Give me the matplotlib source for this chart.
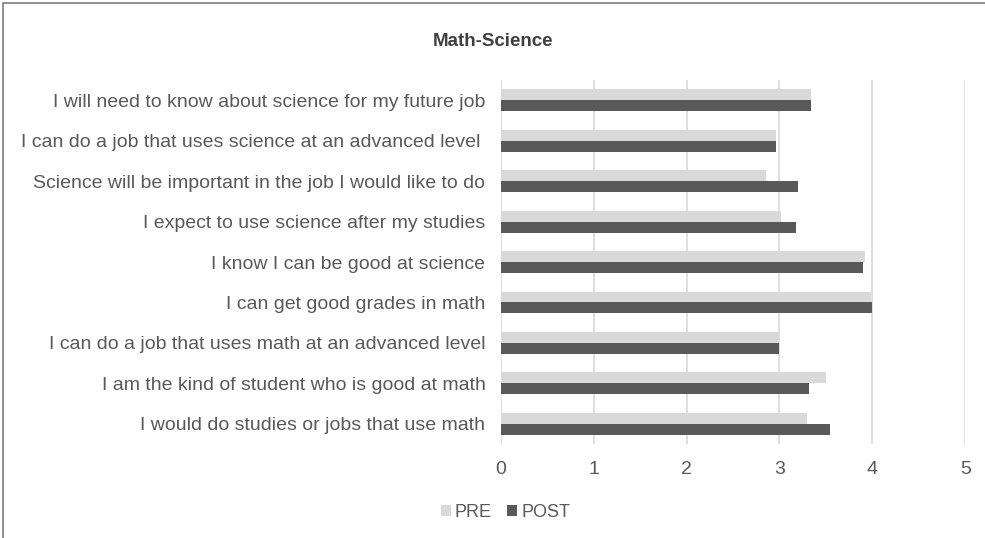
import matplotlib.pyplot as plt
import numpy as np
from matplotlib.patches import Rectangle

plt.rcParams['font.family'] = ['Liberation Sans', 'DejaVu Sans']

# Survey items (top to bottom) and mean scores
items = [
    'I will need to know about science for my future job',
    'I can do a job that uses science at an advanced level ',
    'Science will be important in the job I would like to do',
    'I expect to use science after my studies',
    'I know I can be good at science',
    'I can get good grades in math',
    'I can do a job that uses math at an advanced level',
    'I am the kind of student who is good at math',
    'I would do studies or jobs that use math',
]
pre = [3.34, 2.96, 2.86, 3.02, 3.92, 3.98, 2.99, 3.50, 3.30]
post = [3.34, 2.96, 3.20, 3.18, 3.90, 4.00, 3.00, 3.32, 3.54]
xticks = [0, 1, 2, 3, 4, 5]

pre_color = '#d9d9d9'
post_color = '#595959'
text_color = '#595959'

fig = plt.figure(figsize=(9.85, 5.38), dpi=100)
ax = fig.add_axes([0.5084, 0.175, 0.4716, 0.676])

y = np.arange(len(items))
h = 0.27
ax.barh(y - h / 2, pre, h, color=pre_color, label='PRE', zorder=3)
ax.barh(y + h / 2, post, h, color=post_color, label='POST', zorder=3)

ax.set_ylim(len(items) - 0.5, -0.5)
ax.set_xlim(0, 5)
ax.set_xticks(xticks)
ax.set_yticks(y)
ax.set_yticklabels(items)
ax.tick_params(axis='both', length=0, labelsize=14, colors=text_color)
ax.tick_params(axis='x', pad=12)
ax.tick_params(axis='y', pad=11)
for s in ax.spines.values():
    s.set_visible(False)
ax.grid(axis='x', color='#d9d9d9', linewidth=1.2, zorder=0)

fig.text(0.5, 0.922, 'Math-Science', ha='center', va='center',
         fontsize=13.5, fontweight='bold', color='#404040')

fig.legend(loc='center', bbox_to_anchor=(0.513, 0.048), ncol=2, frameon=False,
           fontsize=13, handlelength=0.55, handleheight=0.55, handletextpad=0.2,
           columnspacing=0.9, labelcolor=text_color)

# outer chart frame
fig.patches.append(Rectangle((3 / 985, -0.05), 1.1, 1 - 3 / 538 + 0.05,
                             transform=fig.transFigure, fill=False,
                             edgecolor='#7f7f7f', linewidth=1.2))

fig.savefig('out.png', dpi=100)
